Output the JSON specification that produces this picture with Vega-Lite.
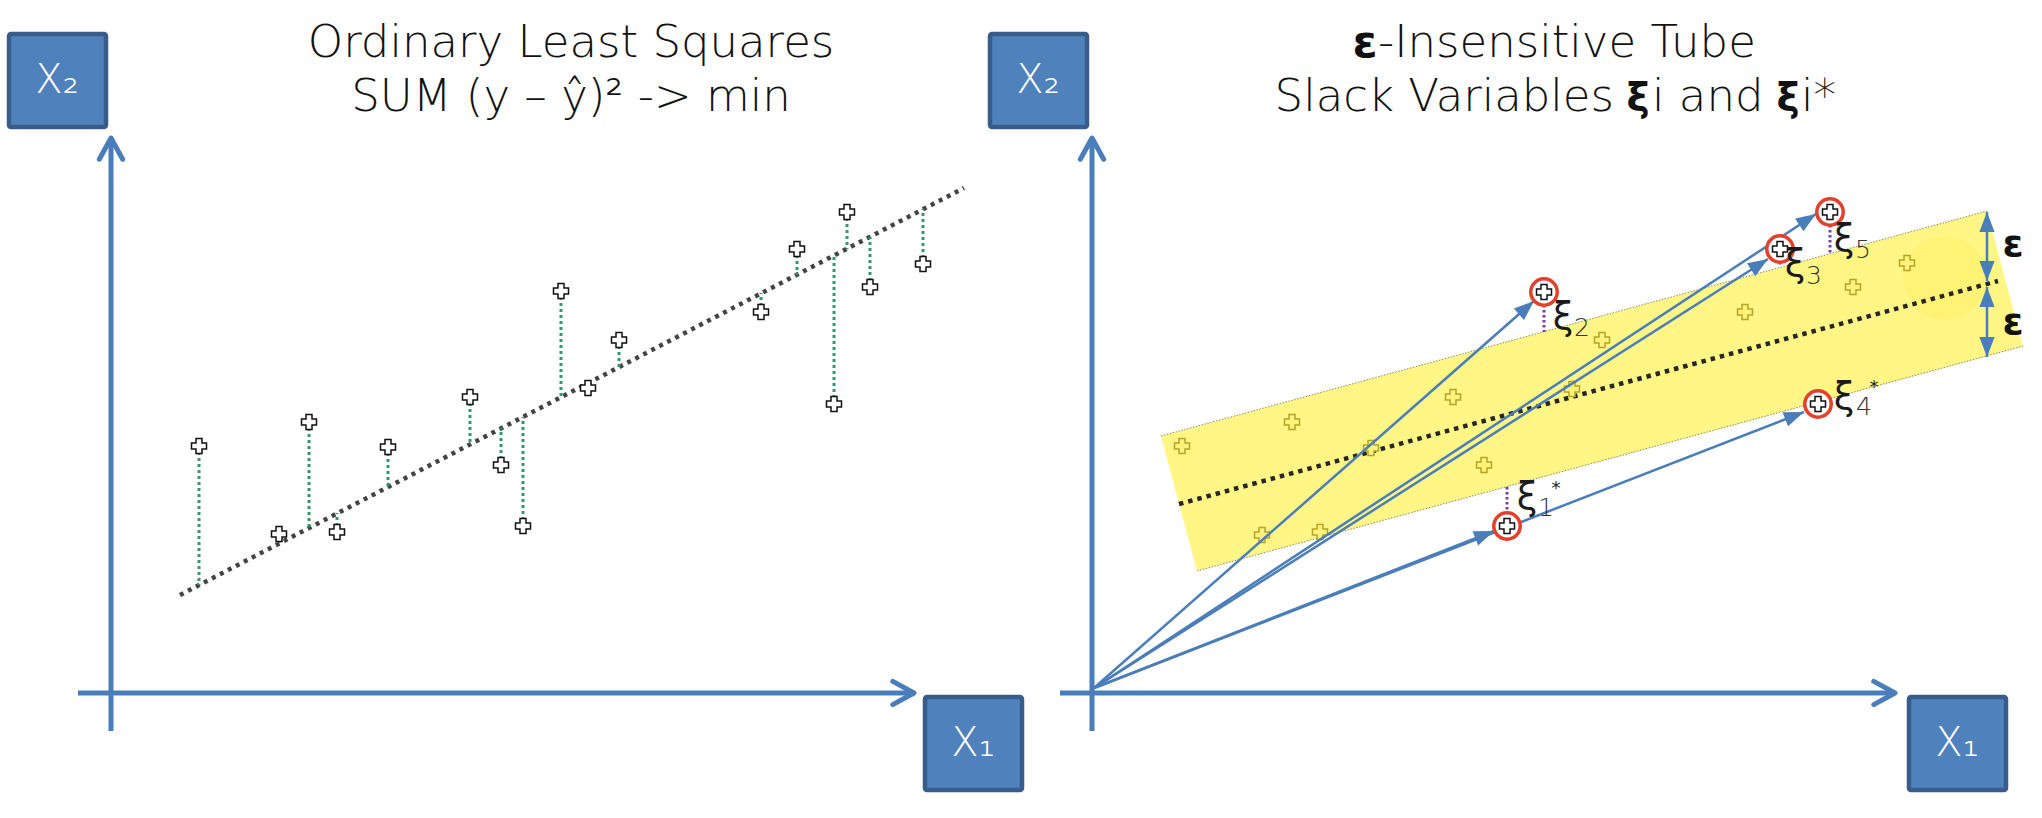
{
  "$schema": "https://vega.github.io/schema/vega-lite/v6.json",
  "width": 2042,
  "height": 818,
  "autosize": {"type": "fit", "contains": "padding"},
  "padding": 0,
  "background": "white",
  "config": {"view": {"stroke": null}},
  "datasets": {
    "tube": [
      {"x": 1161, "top": 436, "bottom": 436},
      {"x": 1197, "top": 426.2, "bottom": 571},
      {"x": 1987, "top": 211, "bottom": 356.3},
      {"x": 2023, "top": 346, "bottom": 346}
    ],
    "glow": [{"x": 1945, "y": 278}],
    "tubeEdges": [
      {"x": 1161, "y": 436, "x2": 1987, "y2": 211},
      {"x": 1197, "y": 571, "x2": 2023, "y2": 346}
    ],
    "centerLine": [{"x": 1179, "y": 504, "x2": 1998, "y2": 281}],
    "olsLine": [{"x": 180, "y": 595, "x2": 964, "y2": 188}],
    "ols": [
      {"x": 199, "y": 446, "yhat": 585},
      {"x": 279, "y": 534, "yhat": 543},
      {"x": 309, "y": 422, "yhat": 528},
      {"x": 337, "y": 532, "yhat": 513},
      {"x": 388, "y": 447, "yhat": 487},
      {"x": 470, "y": 397, "yhat": 444},
      {"x": 501, "y": 465, "yhat": 428},
      {"x": 523, "y": 526, "yhat": 417},
      {"x": 561, "y": 291, "yhat": 397},
      {"x": 588, "y": 388, "yhat": 383},
      {"x": 619, "y": 340, "yhat": 367},
      {"x": 761, "y": 312, "yhat": 293},
      {"x": 797, "y": 249, "yhat": 275},
      {"x": 834, "y": 404, "yhat": 255},
      {"x": 847, "y": 212, "yhat": 249},
      {"x": 870, "y": 287, "yhat": 237},
      {"x": 923, "y": 264, "yhat": 209}
    ],
    "slackLines": [
      {"x": 1544, "y": 305, "y2": 332},
      {"x": 1830, "y": 225, "y2": 254},
      {"x": 1780, "y": 262, "y2": 267},
      {"x": 1507, "y": 487, "y2": 513}
    ],
    "axes": [
      {"x": 111, "y": 140, "x2": 111, "y2": 731},
      {"x": 78, "y": 693, "x2": 912, "y2": 693},
      {"x": 1092, "y": 140, "x2": 1092, "y2": 731},
      {"x": 1060, "y": 693, "x2": 1893, "y2": 693}
    ],
    "tipsUp": [{"x": 111, "y": 138}, {"x": 1092, "y": 138}],
    "tipsRight": [{"x": 914, "y": 693}, {"x": 1895, "y": 693}],
    "tubePts": [
      {"x": 1182, "y": 446}, {"x": 1292, "y": 422}, {"x": 1371, "y": 448},
      {"x": 1453, "y": 397}, {"x": 1484, "y": 465}, {"x": 1262, "y": 535},
      {"x": 1320, "y": 532}, {"x": 1572, "y": 389}, {"x": 1602, "y": 340},
      {"x": 1745, "y": 312}, {"x": 1853, "y": 287}, {"x": 1907, "y": 263}
    ],
    "vectors": [
      {"x": 1094, "y": 688, "x2": 1534, "y2": 301},
      {"x": 1094, "y": 688, "x2": 1768, "y2": 259},
      {"x": 1094, "y": 688, "x2": 1816, "y2": 214},
      {"x": 1094, "y": 688, "x2": 1804, "y2": 412},
      {"x": 1094, "y": 688, "x2": 1494, "y2": 531},
      {"x": 1987, "y": 246, "x2": 1987, "y2": 212},
      {"x": 1987, "y": 246, "x2": 1987, "y2": 281},
      {"x": 1987, "y": 322, "x2": 1987, "y2": 287},
      {"x": 1987, "y": 322, "x2": 1987, "y2": 357}
    ],
    "circled": [
      {"x": 1544, "y": 292}, {"x": 1830, "y": 212}, {"x": 1780, "y": 249},
      {"x": 1818, "y": 404}, {"x": 1507, "y": 526}
    ],
    "boxes": [
      {"x": 9, "x2": 106, "y": 34, "y2": 127, "cx": 57, "cy": 81, "t": "X₂"},
      {"x": 925, "x2": 1022, "y": 697, "y2": 790, "cx": 973, "cy": 744, "t": "X₁"},
      {"x": 990, "x2": 1087, "y": 34, "y2": 127, "cx": 1038, "cy": 81, "t": "X₂"},
      {"x": 1909, "x2": 2006, "y": 697, "y2": 790, "cx": 1957, "cy": 744, "t": "X₁"}
    ],
    "titleCenter": [
      {"t": "Ordinary Least Squares", "x": 571, "y": 57},
      {"t": "SUM (y – ŷ)² -> min", "x": 571, "y": 111}
    ],
    "titleLeft": [
      {"t": "-Insensitive Tube", "x": 1378, "y": 57},
      {"t": "i and", "x": 1652, "y": 111},
      {"t": "i*", "x": 1801, "y": 111}
    ],
    "titleRight": [{"t": "Slack Variables", "x": 1614, "y": 111}],
    "titleBoldEps": [{"t": "ε", "x": 1365, "y": 57}],
    "titleBoldXi": [
      {"t": "ξ", "x": 1638, "y": 111},
      {"t": "ξ", "x": 1788, "y": 111}
    ],
    "xiGlyph": [
      {"t": "ξ", "x": 1563, "y": 329},
      {"t": "ξ", "x": 1844, "y": 251},
      {"t": "ξ", "x": 1795, "y": 276},
      {"t": "ξ", "x": 1844, "y": 409},
      {"t": "ξ", "x": 1527, "y": 509}
    ],
    "xiSub": [
      {"t": "2", "x": 1574, "y": 336},
      {"t": "5", "x": 1855, "y": 258},
      {"t": "3", "x": 1806, "y": 284},
      {"t": "4", "x": 1856, "y": 415},
      {"t": "1", "x": 1538, "y": 516}
    ],
    "xiStar": [
      {"t": "*", "x": 1874, "y": 393},
      {"t": "*", "x": 1556, "y": 494}
    ],
    "eps": [
      {"t": "ε", "x": 2013, "y": 245},
      {"t": "ε", "x": 2013, "y": 323}
    ]
  },
  "layer": [
    {
      "data": {"name": "tube"},
      "mark": {"type": "area", "color": "#FFF685", "opacity": 1},
      "encoding": {
        "x": {"field": "x", "type": "quantitative", "scale": {"domain": [0, 2042], "nice": false, "zero": false}, "axis": null},
        "y": {"field": "top", "type": "quantitative", "scale": {"domain": [0, 818], "nice": false, "zero": false, "reverse": true}, "axis": null},
        "y2": {"field": "bottom"}
      }
    },
    {
      "data": {"name": "glow"},
      "mark": {"type": "point", "shape": "circle", "filled": true, "color": "#FFEA2E", "opacity": 0.18, "size": 7000},
      "encoding": {
        "x": {"field": "x", "type": "quantitative", "scale": {"domain": [0, 2042], "nice": false, "zero": false}, "axis": null},
        "y": {"field": "y", "type": "quantitative", "scale": {"domain": [0, 818], "nice": false, "zero": false, "reverse": true}, "axis": null}
      }
    },
    {
      "data": {"name": "tubeEdges"},
      "mark": {"type": "rule", "color": "#8C8A6A", "strokeWidth": 1, "strokeDash": [1.5, 1.5]},
      "encoding": {
        "x": {"field": "x", "type": "quantitative", "scale": {"domain": [0, 2042], "nice": false, "zero": false}, "axis": null},
        "y": {"field": "y", "type": "quantitative", "scale": {"domain": [0, 818], "nice": false, "zero": false, "reverse": true}, "axis": null},
        "x2": {"field": "x2"},
        "y2": {"field": "y2"}
      }
    },
    {
      "data": {"name": "centerLine"},
      "mark": {"type": "rule", "color": "#262626", "strokeWidth": 4.5, "strokeDash": [4.5, 5]},
      "encoding": {
        "x": {"field": "x", "type": "quantitative", "scale": {"domain": [0, 2042], "nice": false, "zero": false}, "axis": null},
        "y": {"field": "y", "type": "quantitative", "scale": {"domain": [0, 818], "nice": false, "zero": false, "reverse": true}, "axis": null},
        "x2": {"field": "x2"},
        "y2": {"field": "y2"}
      }
    },
    {
      "data": {"name": "olsLine"},
      "mark": {"type": "rule", "color": "#444444", "strokeWidth": 4.5, "strokeDash": [4, 5]},
      "encoding": {
        "x": {"field": "x", "type": "quantitative", "scale": {"domain": [0, 2042], "nice": false, "zero": false}, "axis": null},
        "y": {"field": "y", "type": "quantitative", "scale": {"domain": [0, 818], "nice": false, "zero": false, "reverse": true}, "axis": null},
        "x2": {"field": "x2"},
        "y2": {"field": "y2"}
      }
    },
    {
      "data": {"name": "ols"},
      "mark": {"type": "rule", "color": "#2F9A6A", "strokeWidth": 3, "strokeDash": [3, 3]},
      "encoding": {
        "x": {"field": "x", "type": "quantitative", "scale": {"domain": [0, 2042], "nice": false, "zero": false}, "axis": null},
        "y": {"field": "y", "type": "quantitative", "scale": {"domain": [0, 818], "nice": false, "zero": false, "reverse": true}, "axis": null},
        "y2": {"field": "yhat"}
      }
    },
    {
      "data": {"name": "slackLines"},
      "mark": {"type": "rule", "color": "#7B3FA0", "strokeWidth": 3, "strokeDash": [2.5, 2.5]},
      "encoding": {
        "x": {"field": "x", "type": "quantitative", "scale": {"domain": [0, 2042], "nice": false, "zero": false}, "axis": null},
        "y": {"field": "y", "type": "quantitative", "scale": {"domain": [0, 818], "nice": false, "zero": false, "reverse": true}, "axis": null},
        "y2": {"field": "y2"}
      }
    },
    {
      "data": {"name": "axes"},
      "mark": {"type": "rule", "color": "#4A7EBB", "strokeWidth": 5},
      "encoding": {
        "x": {"field": "x", "type": "quantitative", "scale": {"domain": [0, 2042], "nice": false, "zero": false}, "axis": null},
        "y": {"field": "y", "type": "quantitative", "scale": {"domain": [0, 818], "nice": false, "zero": false, "reverse": true}, "axis": null},
        "x2": {"field": "x2"},
        "y2": {"field": "y2"}
      }
    },
    {
      "data": {"name": "tipsUp"},
      "mark": {"type": "point", "shape": "M-0.55,1L0,0L0.55,1", "filled": false, "stroke": "#4A7EBB", "strokeWidth": 5, "strokeCap": "round", "strokeJoin": "round", "size": 1800, "opacity": 1},
      "encoding": {
        "x": {"field": "x", "type": "quantitative", "scale": {"domain": [0, 2042], "nice": false, "zero": false}, "axis": null},
        "y": {"field": "y", "type": "quantitative", "scale": {"domain": [0, 818], "nice": false, "zero": false, "reverse": true}, "axis": null}
      }
    },
    {
      "data": {"name": "tipsRight"},
      "mark": {"type": "point", "shape": "M-0.55,1L0,0L0.55,1", "angle": 90, "filled": false, "stroke": "#4A7EBB", "strokeWidth": 5, "strokeCap": "round", "strokeJoin": "round", "size": 1800, "opacity": 1},
      "encoding": {
        "x": {"field": "x", "type": "quantitative", "scale": {"domain": [0, 2042], "nice": false, "zero": false}, "axis": null},
        "y": {"field": "y", "type": "quantitative", "scale": {"domain": [0, 818], "nice": false, "zero": false, "reverse": true}, "axis": null}
      }
    },
    {
      "data": {"name": "tubePts"},
      "mark": {"type": "point", "shape": "cross", "filled": true, "fill": "#FFF27A", "stroke": "#B3A52A", "strokeWidth": 1.5, "size": 225, "opacity": 1},
      "encoding": {
        "x": {"field": "x", "type": "quantitative", "scale": {"domain": [0, 2042], "nice": false, "zero": false}, "axis": null},
        "y": {"field": "y", "type": "quantitative", "scale": {"domain": [0, 818], "nice": false, "zero": false, "reverse": true}, "axis": null}
      }
    },
    {
      "data": {"name": "vectors"},
      "mark": {"type": "rule", "color": "#4A7EBB", "strokeWidth": 2.5},
      "encoding": {
        "x": {"field": "x", "type": "quantitative", "scale": {"domain": [0, 2042], "nice": false, "zero": false}, "axis": null},
        "y": {"field": "y", "type": "quantitative", "scale": {"domain": [0, 818], "nice": false, "zero": false, "reverse": true}, "axis": null},
        "x2": {"field": "x2"},
        "y2": {"field": "y2"}
      }
    },
    {
      "data": {"name": "vectors"},
      "transform": [{"calculate": "atan2(datum.x2 - datum.x, datum.y - datum.y2) * 180 / PI", "as": "heading"}],
      "mark": {"type": "point", "shape": "M0,0L-0.38,1L0.38,1Z", "filled": true, "color": "#4A7EBB", "size": 1600, "opacity": 1},
      "encoding": {
        "x": {"field": "x2", "type": "quantitative", "scale": {"domain": [0, 2042], "nice": false, "zero": false}, "axis": null},
        "y": {"field": "y2", "type": "quantitative", "scale": {"domain": [0, 818], "nice": false, "zero": false, "reverse": true}, "axis": null},
        "angle": {"field": "heading", "type": "quantitative", "scale": null}
      }
    },
    {
      "data": {"name": "circled"},
      "mark": {"type": "point", "shape": "circle", "filled": true, "fill": "white", "stroke": "#E4402C", "strokeWidth": 3.5, "size": 700, "opacity": 1},
      "encoding": {
        "x": {"field": "x", "type": "quantitative", "scale": {"domain": [0, 2042], "nice": false, "zero": false}, "axis": null},
        "y": {"field": "y", "type": "quantitative", "scale": {"domain": [0, 818], "nice": false, "zero": false, "reverse": true}, "axis": null}
      }
    },
    {
      "data": {"name": "circled"},
      "mark": {"type": "point", "shape": "cross", "filled": true, "fill": "white", "stroke": "#111111", "strokeWidth": 1.5, "size": 225, "opacity": 1},
      "encoding": {
        "x": {"field": "x", "type": "quantitative", "scale": {"domain": [0, 2042], "nice": false, "zero": false}, "axis": null},
        "y": {"field": "y", "type": "quantitative", "scale": {"domain": [0, 818], "nice": false, "zero": false, "reverse": true}, "axis": null}
      }
    },
    {
      "data": {"name": "ols"},
      "mark": {"type": "point", "shape": "cross", "filled": true, "fill": "white", "stroke": "#111111", "strokeWidth": 1.5, "size": 225, "opacity": 1},
      "encoding": {
        "x": {"field": "x", "type": "quantitative", "scale": {"domain": [0, 2042], "nice": false, "zero": false}, "axis": null},
        "y": {"field": "y", "type": "quantitative", "scale": {"domain": [0, 818], "nice": false, "zero": false, "reverse": true}, "axis": null}
      }
    },
    {
      "data": {"name": "boxes"},
      "mark": {"type": "rect", "fill": "#4F81BD", "stroke": "#385D8A", "strokeWidth": 4.5, "cornerRadius": 2},
      "encoding": {
        "x": {"field": "x", "type": "quantitative", "scale": {"domain": [0, 2042], "nice": false, "zero": false}, "axis": null},
        "y": {"field": "y", "type": "quantitative", "scale": {"domain": [0, 818], "nice": false, "zero": false, "reverse": true}, "axis": null},
        "x2": {"field": "x2"},
        "y2": {"field": "y2"}
      }
    },
    {
      "data": {"name": "boxes"},
      "mark": {"type": "text", "font": "DejaVu Sans", "fontWeight": 200, "fontSize": 40, "align": "center", "baseline": "middle", "color": "white"},
      "encoding": {
        "x": {"field": "cx", "type": "quantitative", "scale": {"domain": [0, 2042], "nice": false, "zero": false}, "axis": null},
        "y": {"field": "cy", "type": "quantitative", "scale": {"domain": [0, 818], "nice": false, "zero": false, "reverse": true}, "axis": null},
        "text": {"field": "t"}
      }
    },
    {
      "data": {"name": "titleCenter"},
      "mark": {"type": "text", "font": "DejaVu Sans", "fontWeight": 200, "fontSize": 45, "align": "center", "baseline": "alphabetic", "color": "#111111"},
      "encoding": {
        "x": {"field": "x", "type": "quantitative", "scale": {"domain": [0, 2042], "nice": false, "zero": false}, "axis": null},
        "y": {"field": "y", "type": "quantitative", "scale": {"domain": [0, 818], "nice": false, "zero": false, "reverse": true}, "axis": null},
        "text": {"field": "t"}
      }
    },
    {
      "data": {"name": "titleLeft"},
      "mark": {"type": "text", "font": "DejaVu Sans", "fontWeight": 200, "fontSize": 45, "align": "left", "baseline": "alphabetic", "color": "#111111"},
      "encoding": {
        "x": {"field": "x", "type": "quantitative", "scale": {"domain": [0, 2042], "nice": false, "zero": false}, "axis": null},
        "y": {"field": "y", "type": "quantitative", "scale": {"domain": [0, 818], "nice": false, "zero": false, "reverse": true}, "axis": null},
        "text": {"field": "t"}
      }
    },
    {
      "data": {"name": "titleRight"},
      "mark": {"type": "text", "font": "DejaVu Sans", "fontWeight": 200, "fontSize": 45, "align": "right", "baseline": "alphabetic", "color": "#111111"},
      "encoding": {
        "x": {"field": "x", "type": "quantitative", "scale": {"domain": [0, 2042], "nice": false, "zero": false}, "axis": null},
        "y": {"field": "y", "type": "quantitative", "scale": {"domain": [0, 818], "nice": false, "zero": false, "reverse": true}, "axis": null},
        "text": {"field": "t"}
      }
    },
    {
      "data": {"name": "titleBoldEps"},
      "mark": {"type": "text", "font": "DejaVu Sans", "fontWeight": "bold", "fontSize": 45, "align": "center", "baseline": "alphabetic", "color": "#111111"},
      "encoding": {
        "x": {"field": "x", "type": "quantitative", "scale": {"domain": [0, 2042], "nice": false, "zero": false}, "axis": null},
        "y": {"field": "y", "type": "quantitative", "scale": {"domain": [0, 818], "nice": false, "zero": false, "reverse": true}, "axis": null},
        "text": {"field": "t"}
      }
    },
    {
      "data": {"name": "titleBoldXi"},
      "mark": {"type": "text", "font": "DejaVu Sans", "fontWeight": "bold", "fontSize": 39, "align": "center", "baseline": "alphabetic", "color": "#111111"},
      "encoding": {
        "x": {"field": "x", "type": "quantitative", "scale": {"domain": [0, 2042], "nice": false, "zero": false}, "axis": null},
        "y": {"field": "y", "type": "quantitative", "scale": {"domain": [0, 818], "nice": false, "zero": false, "reverse": true}, "axis": null},
        "text": {"field": "t"}
      }
    },
    {
      "data": {"name": "xiGlyph"},
      "mark": {"type": "text", "font": "DejaVu Sans", "fontSize": 37, "align": "center", "baseline": "alphabetic", "color": "#1A1A1A"},
      "encoding": {
        "x": {"field": "x", "type": "quantitative", "scale": {"domain": [0, 2042], "nice": false, "zero": false}, "axis": null},
        "y": {"field": "y", "type": "quantitative", "scale": {"domain": [0, 818], "nice": false, "zero": false, "reverse": true}, "axis": null},
        "text": {"field": "t"}
      }
    },
    {
      "data": {"name": "xiSub"},
      "mark": {"type": "text", "font": "DejaVu Sans", "fontWeight": 200, "fontSize": 25, "align": "left", "baseline": "alphabetic", "color": "#333333"},
      "encoding": {
        "x": {"field": "x", "type": "quantitative", "scale": {"domain": [0, 2042], "nice": false, "zero": false}, "axis": null},
        "y": {"field": "y", "type": "quantitative", "scale": {"domain": [0, 818], "nice": false, "zero": false, "reverse": true}, "axis": null},
        "text": {"field": "t"}
      }
    },
    {
      "data": {"name": "xiStar"},
      "mark": {"type": "text", "font": "DejaVu Sans", "fontSize": 18, "align": "center", "baseline": "alphabetic", "color": "#222222"},
      "encoding": {
        "x": {"field": "x", "type": "quantitative", "scale": {"domain": [0, 2042], "nice": false, "zero": false}, "axis": null},
        "y": {"field": "y", "type": "quantitative", "scale": {"domain": [0, 818], "nice": false, "zero": false, "reverse": true}, "axis": null},
        "text": {"field": "t"}
      }
    },
    {
      "data": {"name": "eps"},
      "mark": {"type": "text", "font": "DejaVu Sans", "fontWeight": "bold", "fontSize": 38, "align": "center", "baseline": "middle", "color": "#111111"},
      "encoding": {
        "x": {"field": "x", "type": "quantitative", "scale": {"domain": [0, 2042], "nice": false, "zero": false}, "axis": null},
        "y": {"field": "y", "type": "quantitative", "scale": {"domain": [0, 818], "nice": false, "zero": false, "reverse": true}, "axis": null},
        "text": {"field": "t"}
      }
    }
  ]
}
